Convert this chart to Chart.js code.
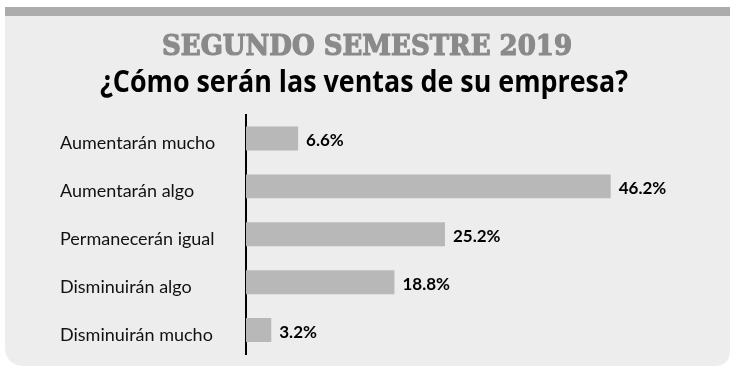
<!DOCTYPE html>
<html>
<head>
<meta charset="utf-8">
<script src="https://cdn.jsdelivr.net/npm/chart.js@4.4.1/dist/chart.umd.min.js"></script>
<style>
html,body{margin:0;padding:0;background:#fff;}
#wrap{width:736px;height:373px;}
</style>
</head>
<body>
<div id="wrap"><canvas id="c" width="736" height="373"></canvas></div>
<script>
const titleText = "SEGUNDO SEMESTRE 2019";
const subtitleText = "¿Cómo serán las ventas de su empresa?";
const categories = ["Aumentarán mucho", "Aumentarán algo", "Permanecerán igual", "Disminuirán algo", "Disminuirán mucho"];
const values = [6.6, 46.2, 25.2, 18.8, 3.2];
const valueLabels = ["6.6%", "46.2%", "25.2%", "18.8%", "3.2%"];

function roundRectPath(ctx, x, y, w, h, rtl, rtr, rbr, rbl) {
  ctx.beginPath();
  ctx.moveTo(x + rtl, y);
  ctx.lineTo(x + w - rtr, y);
  ctx.quadraticCurveTo(x + w, y, x + w, y + rtr);
  ctx.lineTo(x + w, y + h - rbr);
  ctx.quadraticCurveTo(x + w, y + h, x + w - rbr, y + h);
  ctx.lineTo(x + rbl, y + h);
  ctx.quadraticCurveTo(x, y + h, x, y + h - rbl);
  ctx.lineTo(x, y + rtl);
  ctx.quadraticCurveTo(x, y, x + rtl, y);
  ctx.closePath();
}

function fitText(ctx, text, cx, baseY, targetW, color, strokeW) {
  const w = ctx.measureText(text).width;
  const s = targetW / w;
  ctx.save();
  ctx.translate(cx, baseY);
  ctx.scale(s, 1);
  ctx.textAlign = 'center';
  ctx.textBaseline = 'alphabetic';
  ctx.fillStyle = color;
  ctx.fillText(text, 0, 0);
  if (strokeW) {
    ctx.strokeStyle = color;
    ctx.lineWidth = strokeW;
    ctx.lineJoin = 'round';
    ctx.strokeText(text, 0, 0);
  }
  ctx.restore();
}

const decor = {
  id: 'decor',
  beforeDraw(chart) {
    const ctx = chart.ctx;
    ctx.save();
    ctx.fillStyle = '#ffffff';
    ctx.fillRect(0, 0, chart.width, chart.height);
    ctx.fillStyle = '#ededed';
    roundRectPath(ctx, 5, 16, 725, 350, 0, 0, 16, 20);
    ctx.fill();
    ctx.fillStyle = '#acacac';
    ctx.fillRect(5, 7, 725, 9);
    ctx.font = 'bold 27px "DejaVu Serif"';
    fitText(ctx, titleText, 367, 55, 410, '#8a8a8a', 1.2);
    ctx.font = 'bold 31px "Open Sans"';
    fitText(ctx, subtitleText, 364, 92, 528, '#000000', 0);
    ctx.restore();
  },
  afterDatasetsDraw(chart) {
    const ctx = chart.ctx;
    const meta = chart.getDatasetMeta(0);
    ctx.save();
    ctx.fillStyle = '#000000';
    ctx.font = 'bold 17px Lato';
    ctx.textAlign = 'left';
    ctx.textBaseline = 'middle';
    meta.data.forEach((bar, i) => {
      ctx.fillText(valueLabels[i], bar.x + 8, bar.y + 2);
    });
    ctx.restore();
  }
};

new Chart(document.getElementById('c'), {
  type: 'bar',
  data: {
    labels: categories,
    datasets: [{
      data: values,
      backgroundColor: '#b8b8b8',
      borderWidth: 0,
      categoryPercentage: 1,
      barPercentage: 0.5
    }]
  },
  options: {
    indexAxis: 'y',
    responsive: false,
    animation: false,
    events: [],
    layout: { padding: { left: 60, right: 95.3, top: 114.5, bottom: 19 } },
    plugins: { legend: { display: false }, tooltip: { enabled: false }, title: { display: false } },
    scales: {
      x: { display: false, min: 0, max: 50 },
      y: {
        afterFit(scale) { scale.width = 186; },
        grid: { display: false },
        border: { display: true, color: '#000000', width: 2 },
        ticks: {
          crossAlign: 'far',
          labelOffset: 5,
          color: '#111111',
          font: { family: 'Lato', size: 18 }
        }
      }
    }
  },
  plugins: [decor]
});
</script>
</body>
</html>
